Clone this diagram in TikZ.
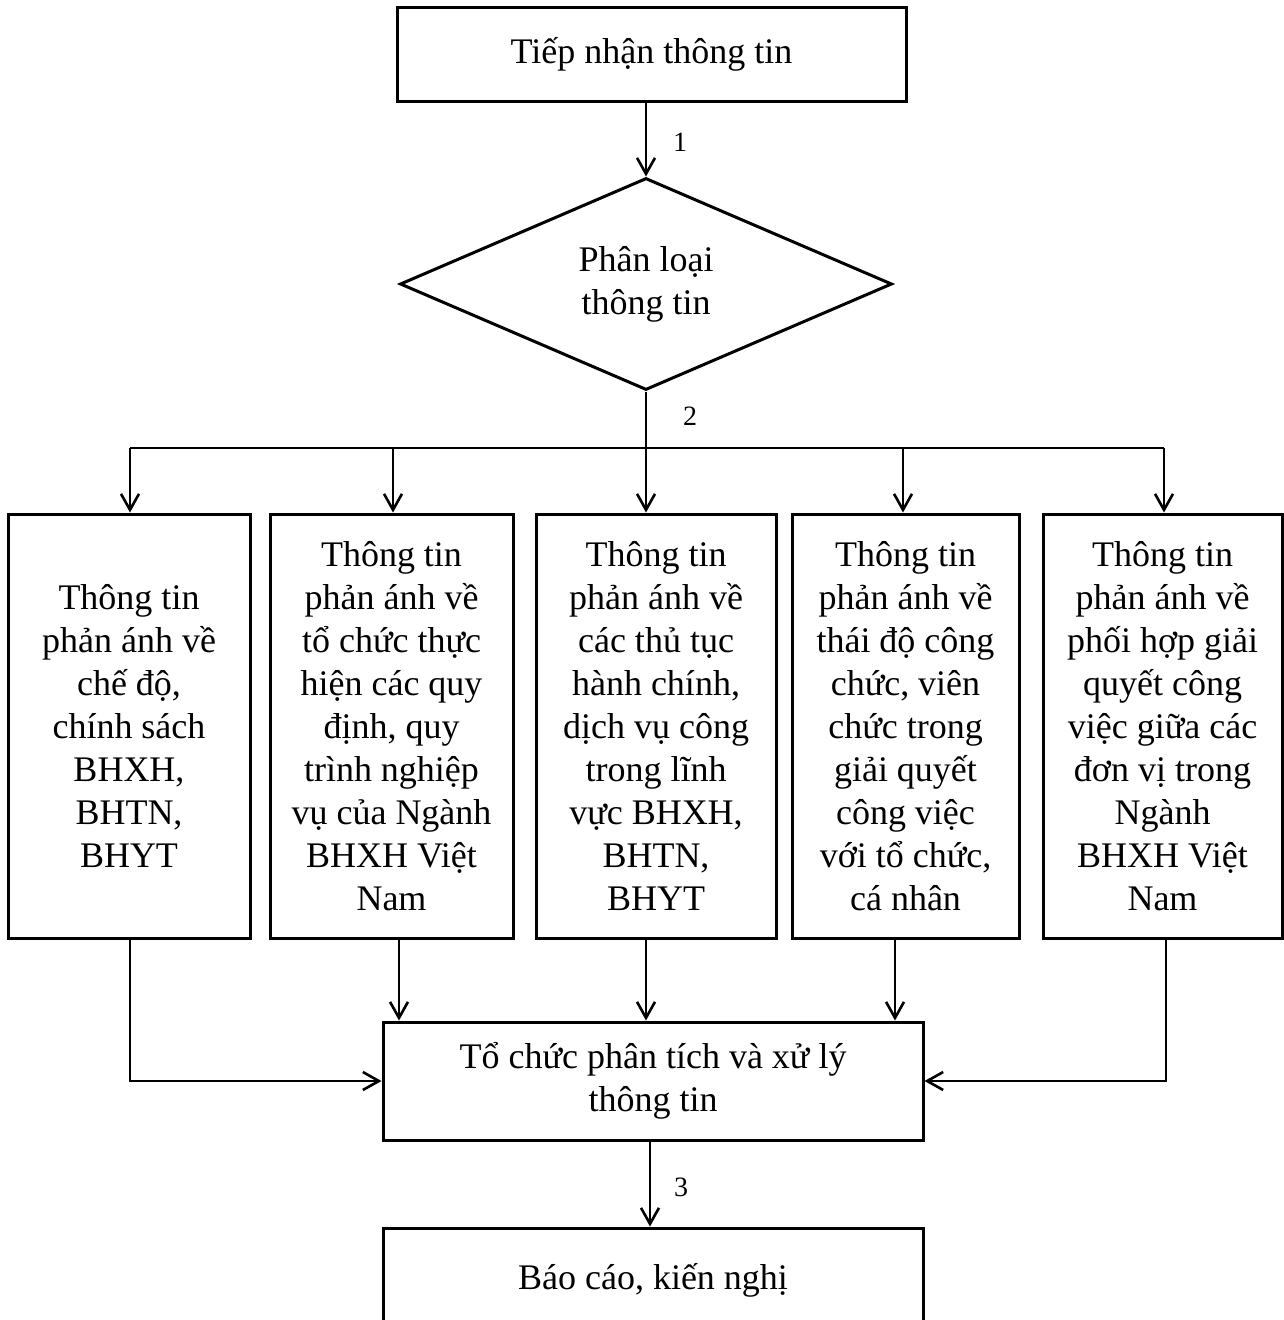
\documentclass[tikz,border=0pt]{standalone}
\usepackage{fontspec}
\setmainfont{Liberation Serif}
\usetikzlibrary{shapes.geometric,arrows.meta}
\begin{document}
\begin{tikzpicture}[x=1pt,y=-1pt,
  box/.style={draw,line width=3pt,rectangle,inner sep=0pt,align=center,font=\fontsize{36}{43}\selectfont},
  arr/.style={line width=2.6pt,-{Straight Barb[length=16pt,width=18pt,line width=2.6pt]}},
  conn/.style={line width=2.6pt},
  num/.style={font=\fontsize{28}{30}\selectfont,inner sep=0pt}]
\clip (0,0) rectangle (1284,1320);
\useasboundingbox (0,0) rectangle (1284,1320);

\node[box,minimum width=509pt,minimum height=94pt] (top) at (651.5,54) {\raisebox{-4pt}{Tiếp nhận thông tin}};
\node[draw,line width=3pt,shape=diamond,aspect=2.32,inner sep=0pt,minimum width=492pt,minimum height=212pt,align=center,font=\fontsize{36}{43}\selectfont] (d) at (646,284) {Phân loại\\thông tin};

\node[box,minimum width=242pt,minimum height=424pt] (b1) at (129,726) {Thông tin\\phản ánh về\\chế độ,\\chính sách\\BHXH,\\BHTN,\\BHYT};
\node[box,minimum width=243pt,minimum height=424pt] (b2) at (391.5,726) {Thông tin\\phản ánh về\\tổ chức thực\\hiện các quy\\định, quy\\trình nghiệp\\vụ của Ngành\\BHXH Việt\\Nam};
\node[box,minimum width=240pt,minimum height=424pt] (b3) at (656,726) {Thông tin\\phản ánh về\\các thủ tục\\hành chính,\\dịch vụ công\\trong lĩnh\\vực BHXH,\\BHTN,\\BHYT};
\node[box,minimum width=227pt,minimum height=424pt] (b4) at (905.5,726) {Thông tin\\phản ánh về\\thái độ công\\chức, viên\\chức trong\\giải quyết\\công việc\\với tổ chức,\\cá nhân};
\node[box,minimum width=239pt,minimum height=424pt] (b5) at (1162.5,726) {Thông tin\\phản ánh về\\phối hợp giải\\quyết công\\việc giữa các\\đơn vị trong\\Ngành\\BHXH Việt\\Nam};

\node[box,minimum width=540pt,minimum height=118pt] (proc) at (653,1081) {\raisebox{-5pt}{\begin{tabular}{@{}c@{}}Tổ chức phân tích và xử lý\\thông tin\end{tabular}}};
\node[box,minimum width=540pt,minimum height=104pt] (rep) at (653,1280) {Báo cáo, kiến nghị};

% arrow 1
\draw[arr] (top.south -| d.north) -- (d.north);
\node[num] (n1) at (680,142) {1};

% bus
\coordinate (j1) at (130,448);
\coordinate (j2) at (393,448);
\coordinate (j3) at (646,448);
\coordinate (j4) at (903,448);
\coordinate (j5) at (1164,448);
\draw[conn] (d.south) -- (j3);
\draw[conn] (j1) -- (j5);
\node[num] (n2) at (690,416) {2};
\draw[arr] (j1) -- (j1 |- b1.north);
\draw[arr] (j2) -- (j2 |- b2.north);
\draw[arr] (j3) -- (j3 |- b3.north);
\draw[arr] (j4) -- (j4 |- b4.north);
\draw[arr] (j5) -- (j5 |- b5.north);

% into processing
\coordinate (k2) at (399,938);
\coordinate (k4) at (895,938);
\draw[arr] (k2) -- (k2 |- proc.north);
\draw[arr] (j3 |- b3.south) -- (j3 |- proc.north);
\draw[arr] (k4) -- (k4 |- proc.north);
\coordinate (k1) at (130,938);
\coordinate (k5) at (1166,938);
\draw[arr] (k1) -- (k1 |- proc.west) -- (proc.west);
\draw[arr] (k5) -- (k5 |- proc.east) -- (proc.east);

% arrow 3
\coordinate (k3) at (650,1140);
\draw[arr] (k3) -- (k3 |- rep.north);
\node[num] (n3) at (681,1187) {3};
\end{tikzpicture}
\end{document}
